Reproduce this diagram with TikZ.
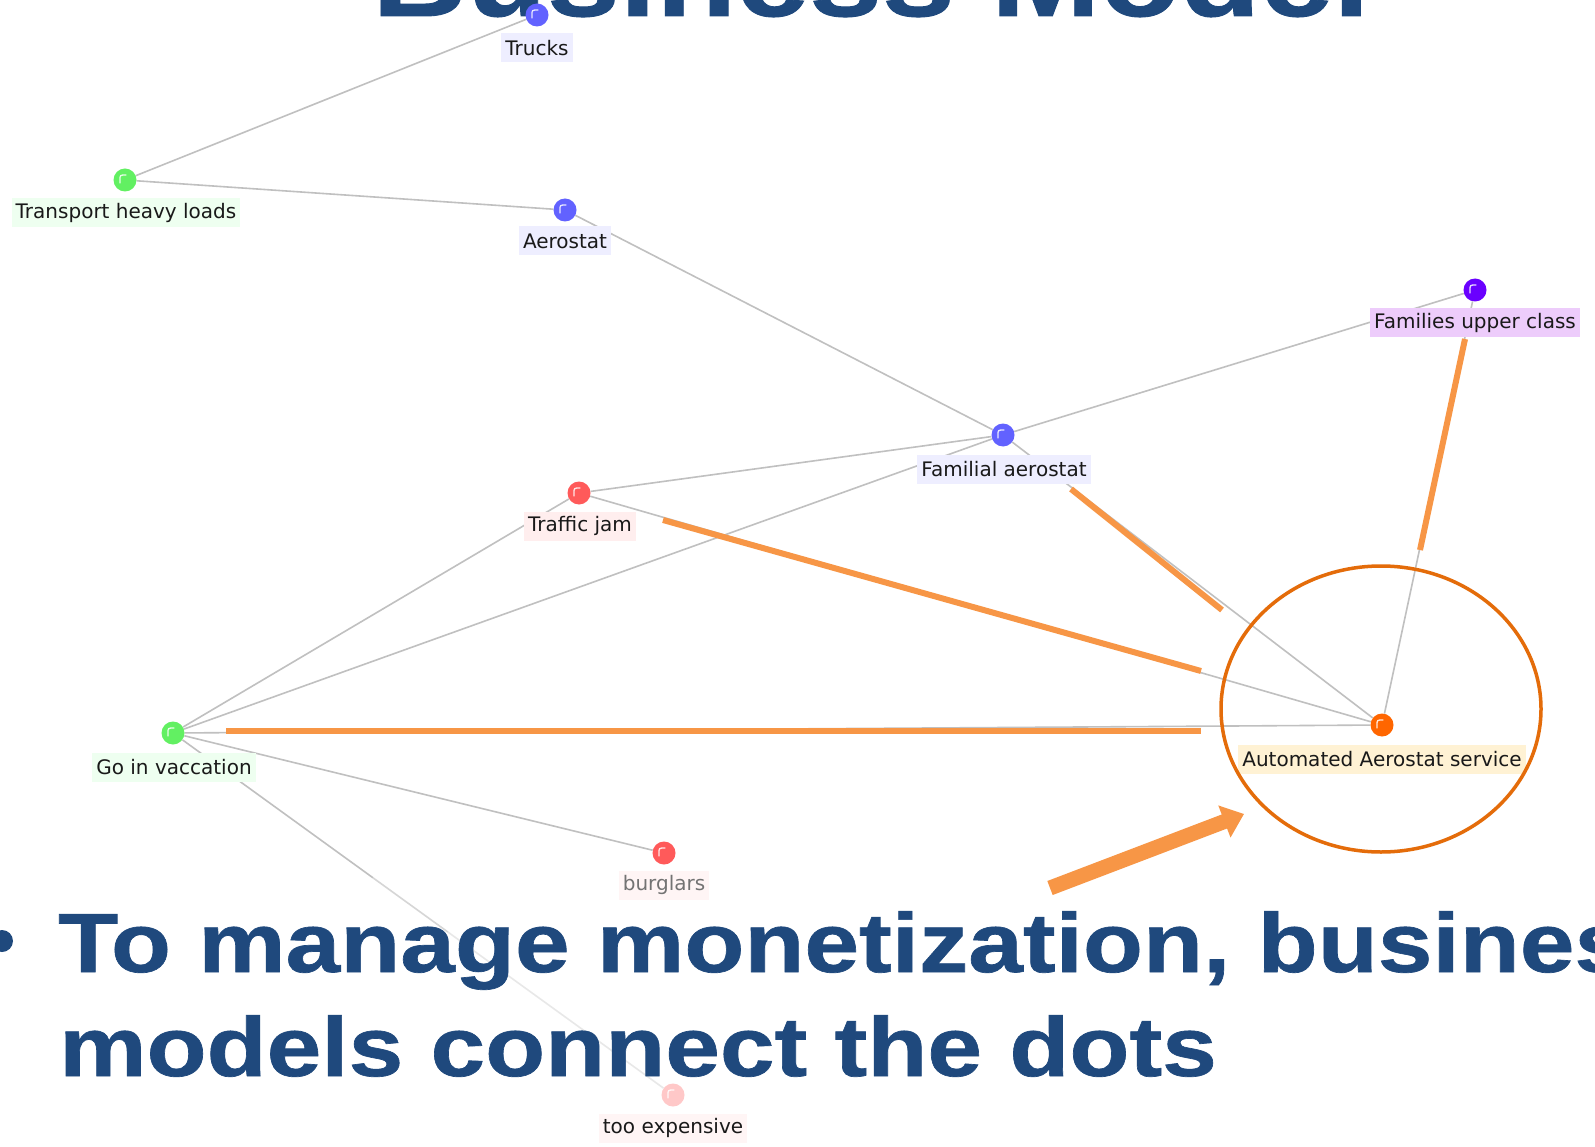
\documentclass[tikz,border=0pt]{standalone}
\usepackage{fontspec}
\usetikzlibrary{calc,arrows.meta,shapes.geometric}
\newfontfamily\labelfont{DejaVu Sans}
\newfontfamily\slidefont[FakeStretch=1.17,FakeBold=0.8]{Liberation Sans}
\definecolor{slideblue}{RGB}{31,73,125}
\definecolor{edgegray}{RGB}{192,192,192}
\definecolor{hlorange}{RGB}{247,150,70}
\definecolor{ringorange}{RGB}{228,108,10}
\definecolor{dotgreen}{RGB}{98,240,98}
\definecolor{dotblue}{RGB}{98,98,255}
\definecolor{dotred}{RGB}{255,90,90}
\definecolor{dotpurple}{RGB}{106,0,255}
\definecolor{dotorange}{RGB}{255,102,0}
\definecolor{dotpink}{RGB}{255,200,200}
\definecolor{labgreen}{RGB}{238,255,240}
\definecolor{labblue}{RGB}{238,238,255}
\definecolor{labred}{RGB}{255,238,238}
\definecolor{labpurple}{RGB}{237,204,251}
\definecolor{laborange}{RGB}{255,242,212}
\pgfdeclarelayer{bottom}
\pgfdeclarelayer{edges}
\pgfsetlayers{bottom,edges,main}
\tikzset{
  dotnode/.style={circle, minimum size=23pt, inner sep=0pt, draw=none},
  lab/.style={font=\labelfont\fontsize{20pt}{24pt}\selectfont, inner xsep=4pt, inner ysep=0pt, minimum height=29pt, text=black!90},
  gedge/.style={draw=edgegray, line width=1.6pt},
  hl/.style={draw=hlorange, line width=6pt},
  slidetext/.style={anchor=base west, inner sep=0pt, text=slideblue},
}
\newcommand\gdot[4]{%
  \node[dotnode, fill=#4] (#1) at (#2,#3) {};
  \draw[white, opacity=0.85, line width=1.3pt, line cap=round]
    ($(#1.center)+(-5,3)$) -- ($(#1.center)+(-5,0)$) .. controls ($(#1.center)+(-5,-5)$) .. ($(#1.center)+(1,-5)$);
}
\begin{document}
\begin{tikzpicture}[x=1pt,y=-1pt]
\useasboundingbox (0,0) rectangle (1595,1147);

\begin{pgfonlayer}{bottom}
\fill[white] (0,0) rectangle (1595,1147);
\node[slidetext, font=\slidefont\bfseries\fontsize{112pt}{120pt}\selectfont] (title) at (372,16) {Business Model};
\end{pgfonlayer}

% dots
\gdot{trucks}{537}{15}{dotblue}
\gdot{trans}{125}{180}{dotgreen}
\gdot{aero}{565}{210}{dotblue}
\gdot{fam}{1475}{290}{dotpurple}
\gdot{familial}{1003}{435}{dotblue}
\gdot{traffic}{579}{493}{dotred}
\gdot{go}{173}{733}{dotgreen}
\gdot{auto}{1382}{725}{dotorange}
\gdot{burg}{664}{853}{dotred}
\gdot{tooexp}{673}{1095}{dotpink}

% labels
\node[lab, fill=labblue] (l-trucks) at (537,48) {Trucks};
\node[lab, fill=labgreen] (l-trans) at (126,213) {Transport heavy loads};
\node[lab, fill=labblue] (l-aero) at (565,241) {Aerostat};
\node[lab, fill=labpurple] (l-fam) at (1475,323) {Families upper class};
\node[lab, fill=labblue] (l-familial) at (1004,469) {Familial aerostat};
\node[lab, fill=labred] (l-traffic) at (580,526) {Traffic jam};
\node[lab, fill=labgreen] (l-go) at (174,767) {Go in vaccation};
\node[lab, fill=laborange] (l-auto) at (1382,759) {Automated Aerostat service};
\node[lab, fill=labred!60!white, text=black!55] (l-burg) at (664,885) {burglars};
\node[lab, fill=labred!60!white] (l-tooexp) at (673,1128) {too expensive};

% gray edges
\begin{pgfonlayer}{edges}
\draw[gedge] (trucks) -- (trans);
\draw[gedge] (trans) -- (aero);
\draw[gedge] (aero) -- (familial);
\draw[gedge] (familial) -- (fam);
\draw[gedge] (familial) -- (traffic);
\draw[gedge] (familial) -- (go);
\draw[gedge] (familial) -- (auto);
\draw[gedge] (traffic) -- (go);
\draw[gedge] (traffic) -- (auto);
\draw[gedge] (go) -- (auto);
\draw[gedge] (go) -- (burg);
\draw[gedge] (fam) -- (auto);
\coordinate (fadeA) at ($(go.center)!0.40!(tooexp.center)$);
\coordinate (fadeB) at ($(go.center)!0.55!(tooexp.center)$);
\draw[gedge] (go) -- (fadeA);
\draw[draw=black!16, line width=1.6pt] (fadeA) -- (fadeB);
\draw[draw=black!9, line width=1.6pt] (fadeB) -- (tooexp);
\end{pgfonlayer}

% orange highlights
\coordinate (h1a) at (1071,489); \coordinate (h1b) at (1222,610);
\coordinate (h2a) at (663,520);  \coordinate (h2b) at (1201,671);
\coordinate (h3a) at (226,731);  \coordinate (h3b) at (1201,731);
\coordinate (h4a) at (1465,339); \coordinate (h4b) at (1420,550);
\draw[hl] (h1a) -- (h1b);
\draw[hl] (h2a) -- (h2b);
\draw[hl] (h3a) -- (h3b);
\draw[hl] (h4a) -- (h4b);

\node[draw=ringorange, line width=3.5pt, ellipse, minimum width=320pt, minimum height=286pt, inner sep=0pt] (ring) at (1381,709) {};

\coordinate (arrA) at (1050,888);
\coordinate (arrB) at (1244,814);
\draw[draw=hlorange, line width=15pt, -{Triangle[length=21pt,width=33pt]}] (arrA) -- (arrB);

% bullet text
\node[circle, fill=slideblue, minimum size=22pt, inner sep=0pt] (bullet) at (2,941) {};
\node[slidetext, font=\slidefont\bfseries\fontsize{84pt}{100pt}\selectfont] (line1) at (58,972) {To manage monetization, business};
\node[slidetext, font=\slidefont\bfseries\fontsize{84pt}{100pt}\selectfont] (line2) at (59,1076) {models connect the dots};
\end{tikzpicture}
\end{document}
